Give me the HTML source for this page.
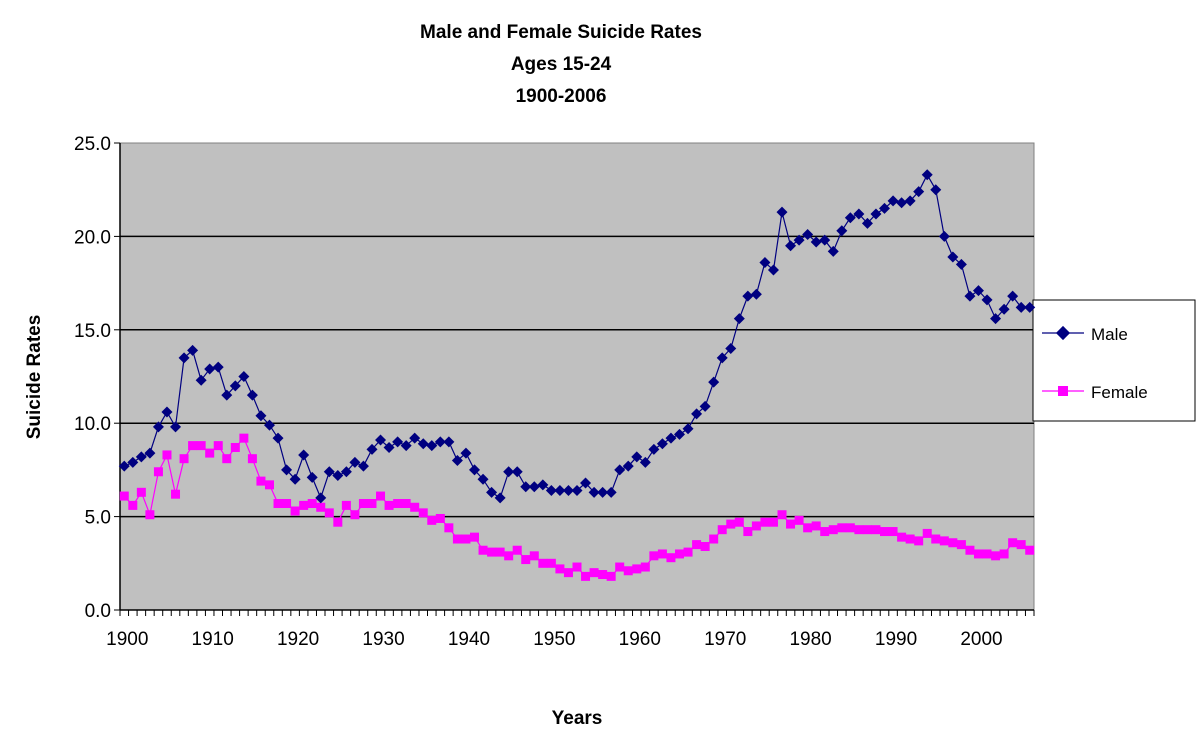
<!DOCTYPE html>
<html><head><meta charset="utf-8"><style>
body{margin:0;background:#fff}
svg{display:block;font-family:"Liberation Sans",Arial,sans-serif}
</style></head><body>
<svg id="s" width="1200" height="737" xmlns="http://www.w3.org/2000/svg">
<rect x="0" y="0" width="1200" height="737" fill="#fff"/>
<text x="561" y="38" font-size="19" font-weight="bold" text-anchor="middle">Male and Female Suicide Rates</text>
<text x="561" y="70" font-size="19" font-weight="bold" text-anchor="middle">Ages 15-24</text>
<text x="561" y="102" font-size="19" font-weight="bold" text-anchor="middle">1900-2006</text>
<rect x="120" y="143" width="914" height="467" fill="#c0c0c0" stroke="#808080" stroke-width="1"/>
<g id="grid"></g>
<text x="40" y="377" font-size="19" font-weight="bold" text-anchor="middle" transform="rotate(-90 40 377)">Suicide Rates</text>
<text x="577" y="724" font-size="19" font-weight="bold" text-anchor="middle">Years</text>
<rect x="1033" y="300" width="162" height="121" fill="#fff" stroke="#000" stroke-width="1"/>
<line x1="1042" y1="333" x2="1084" y2="333" stroke="#000080" stroke-width="1.2"/>
<rect x="1058" y="328" width="10" height="10" fill="#000080" transform="rotate(45 1063 333)"/>
<text x="1091" y="340" font-size="17">Male</text>
<line x1="1042" y1="391" x2="1084" y2="391" stroke="#ff00ff" stroke-width="1.2"/>
<rect x="1058" y="386" width="10" height="10" fill="#ff00ff"/>
<text x="1091" y="398" font-size="17">Female</text>
<g id="data"></g>
</svg>
<script>
var M=[7.7,7.9,8.2,8.4,9.8,10.6,9.8,13.5,13.9,12.3,12.9,13.0,11.5,12.0,12.5,11.5,10.4,9.9,9.2,7.5,7.0,8.3,7.1,6.0,7.4,7.2,7.4,7.9,7.7,8.6,9.1,8.7,9.0,8.8,9.2,8.9,8.8,9.0,9.0,8.0,8.4,7.5,7.0,6.3,6.0,7.4,7.4,6.6,6.6,6.7,6.4,6.4,6.4,6.4,6.8,6.3,6.3,6.3,7.5,7.7,8.2,7.9,8.6,8.9,9.2,9.4,9.7,10.5,10.9,12.2,13.5,14.0,15.6,16.8,16.9,18.6,18.2,21.3,19.5,19.8,20.1,19.7,19.8,19.2,20.3,21.0,21.2,20.7,21.2,21.5,21.9,21.8,21.9,22.4,23.3,22.5,20.0,18.9,18.5,16.8,17.1,16.6,15.6,16.1,16.8,16.2,16.2];
var F=[6.1,5.6,6.3,5.1,7.4,8.3,6.2,8.1,8.8,8.8,8.4,8.8,8.1,8.7,9.2,8.1,6.9,6.7,5.7,5.7,5.3,5.6,5.7,5.5,5.2,4.7,5.6,5.1,5.7,5.7,6.1,5.6,5.7,5.7,5.5,5.2,4.8,4.9,4.4,3.8,3.8,3.9,3.2,3.1,3.1,2.9,3.2,2.7,2.9,2.5,2.5,2.2,2.0,2.3,1.8,2.0,1.9,1.8,2.3,2.1,2.2,2.3,2.9,3.0,2.8,3.0,3.1,3.5,3.4,3.8,4.3,4.6,4.7,4.2,4.5,4.7,4.7,5.1,4.6,4.8,4.4,4.5,4.2,4.3,4.4,4.4,4.3,4.3,4.3,4.2,4.2,3.9,3.8,3.7,4.1,3.8,3.7,3.6,3.5,3.2,3.0,3.0,2.9,3.0,3.6,3.5,3.2];
var n=107,L=120,W=914,T=143,B=610;
function X(i){return L+(i+0.5)*W/n}
function Y(v){return B-v*(B-T)/25}
var g='';
for(var k=1;k<5;k++){var y=Y(k*5);g+='<line x1="120" y1="'+y+'" x2="1034" y2="'+y+'" stroke="#000" stroke-width="1.5"/>';}
g+='<line x1="120" y1="143" x2="120" y2="610" stroke="#000" stroke-width="1.5"/>';
g+='<line x1="120" y1="610" x2="1034" y2="610" stroke="#000" stroke-width="1.5"/>';
for(var k=0;k<=5;k++){var y=Y(k*5);g+='<line x1="114" y1="'+y+'" x2="120" y2="'+y+'" stroke="#000"/><text x="111" y="'+(y+7)+'" font-size="19" text-anchor="end">'+(k*5).toFixed(1)+'</text>';}
for(var i=0;i<=n;i++){var x=L+i*W/n;g+='<line x1="'+x+'" y1="610" x2="'+x+'" y2="616" stroke="#000"/>';}
for(var yr=1900;yr<=2000;yr+=10){var x=X(yr-1900);g+='<text x="'+(x+3)+'" y="645" font-size="19" text-anchor="middle">'+yr+'</text>';}
document.getElementById('grid').innerHTML=g;
var d='';
var pm=M.map(function(v,i){return X(i).toFixed(1)+','+Y(v).toFixed(1)}).join(' ');
var pf=F.map(function(v,i){return X(i).toFixed(1)+','+Y(v).toFixed(1)}).join(' ');
d+='<polyline points="'+pf+'" fill="none" stroke="#ff00ff" stroke-width="1.2"/>';
F.forEach(function(v,i){d+='<rect x="'+(X(i)-4.5)+'" y="'+(Y(v)-4.5)+'" width="9" height="9" fill="#ff00ff"/>';});
d+='<polyline points="'+pm+'" fill="none" stroke="#000080" stroke-width="1.2"/>';
M.forEach(function(v,i){var x=X(i),y=Y(v);d+='<polygon points="'+x+','+(y-5.5)+' '+(x+5.5)+','+y+' '+x+','+(y+5.5)+' '+(x-5.5)+','+y+'" fill="#000080"/>';});
document.getElementById('data').innerHTML=d;
</script>
</body></html>
